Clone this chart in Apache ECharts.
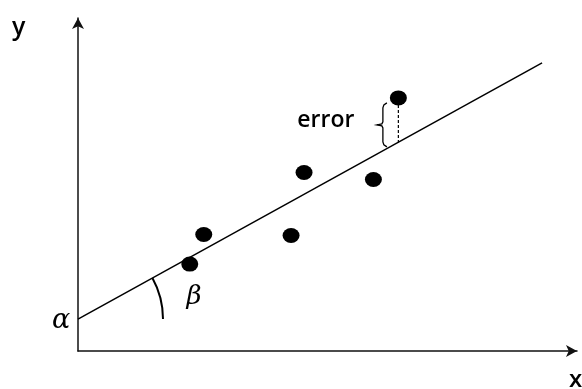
<!DOCTYPE html>
<html>
<head>
<meta charset="utf-8">
<script src="https://cdn.jsdelivr.net/npm/echarts@6/dist/echarts.min.js"></script>
<style>
  html, body { margin: 0; padding: 0; background: #fff; }
  #main { width: 582px; height: 389px; }
</style>
</head>
<body>
<div id="main"></div>
<script>
// observed points (x, y)
var pointsX = [22.4, 25.2, 42.7, 45.3, 59.2, 64.2];
var pointsY = [26.1, 35.0, 34.7, 53.6, 51.5, 76.0];

// fitted line: intercept alpha and end of drawn segment
var lineX = [0, 93.0];
var lineY = [9.6, 86.5];

// error marker for the last point
var errX = 64.2;
var errTop = 73.9;
var errBottom = 62.6;
var braceX = 61.1;
var braceTop = 74.5;
var braceBottom = 61.3;

(function(){
  var myChart = echarts.init(document.getElementById('main'));

  var pts = pointsX.map(function(x, i){ return [x, pointsY[i]]; });
  var linePts = lineX.map(function(x, i){ return [x, lineY[i]]; });

  var option = {
    animation: false,
    grid: { left: 78, right: 5, top: 18, bottom: 38 },
    xAxis: {
      type: 'value', min: 0, max: 100,
      axisLine: { show: true, symbol: ['none', 'arrow'], symbolSize: [9, 11],
        lineStyle: { color: '#111', width: 1.5 } },
      axisTick: { show: false }, axisLabel: { show: false }, splitLine: { show: false }
    },
    yAxis: {
      type: 'value', min: 0, max: 100,
      axisLine: { show: true, symbol: ['none', 'arrow'], symbolSize: [9, 11],
        lineStyle: { color: '#111', width: 1.5 } },
      axisTick: { show: false }, axisLabel: { show: false }, splitLine: { show: false }
    },
    graphic: [
      { type: 'text', left: 12, top: 15, style: { text: 'y', font: '600 25px "Open Sans"', fill: '#000' } },
      { type: 'text', left: 569, top: 368, style: { text: 'x', font: '600 24px "Open Sans"', fill: '#000' } }
    ],
    series: [
      {
        type: 'line',
        data: linePts,
        showSymbol: false,
        lineStyle: { color: '#000', width: 1.5 },
        z: 2
      },
      {
        type: 'scatter',
        data: pts,
        symbol: 'circle',
        symbolSize: [17, 15],
        itemStyle: { color: '#000', opacity: 1 },
        z: 3
      },
      {
        type: 'custom',
        data: [[0]],
        z: 4,
        renderItem: function(params, api){
          var c = api.coord(linePts[0]);
          var e = api.coord(linePts[1]);
          var ang = Math.atan2(e[1] - c[1], e[0] - c[0]);
          var dTop = api.coord([errX, errTop]);
          var dBot = api.coord([errX, errBottom]);
          var bT = api.coord([braceX, braceTop]);
          var bB = api.coord([braceX, braceBottom]);
          var bM = (bT[1] + bB[1]) / 2;
          var bx = bT[0];
          return {
            type: 'group',
            children: [
              { type: 'arc', shape: { cx: c[0], cy: c[1], r: 85, startAngle: ang, endAngle: 0, clockwise: true },
                style: { stroke: '#000', lineWidth: 2, fill: null } },
              { type: 'line', shape: { x1: dTop[0], y1: dTop[1], x2: dBot[0], y2: dBot[1] },
                style: { stroke: '#000', lineWidth: 1.2, lineDash: [3, 2] } },
              { type: 'polyline', shape: { points: [
                  [bx + 4, bT[1]], [bx + 1, bT[1] + 2], [bx, bT[1] + 5], [bx, bM - 3], [bx - 1, bM - 1], [bx - 6, bM],
                  [bx - 1, bM + 1], [bx, bM + 3], [bx, bB[1] - 5], [bx + 1, bB[1] - 2], [bx + 4, bB[1]]
                ] },
                style: { stroke: '#000', lineWidth: 1.3, fill: null } },
              { type: 'text', x: bx - 57, y: bM - 4,
                style: { text: 'error', font: '600 23px "Open Sans"', fill: '#000', align: 'center', verticalAlign: 'middle' } },
              { type: 'text', x: c[0] - 17, y: c[1] + 2,
                style: { text: 'α', font: 'italic 27px "DejaVu Serif"', fill: '#000', align: 'center', verticalAlign: 'middle' } },
              { type: 'text', x: 194, y: 297,
                style: { text: 'β', font: 'italic 26px "DejaVu Serif"', fill: '#000', align: 'center', verticalAlign: 'middle' } }
            ]
          };
        }
      }
    ]
  };
  myChart.setOption(option);
})();
</script>
</body>
</html>
